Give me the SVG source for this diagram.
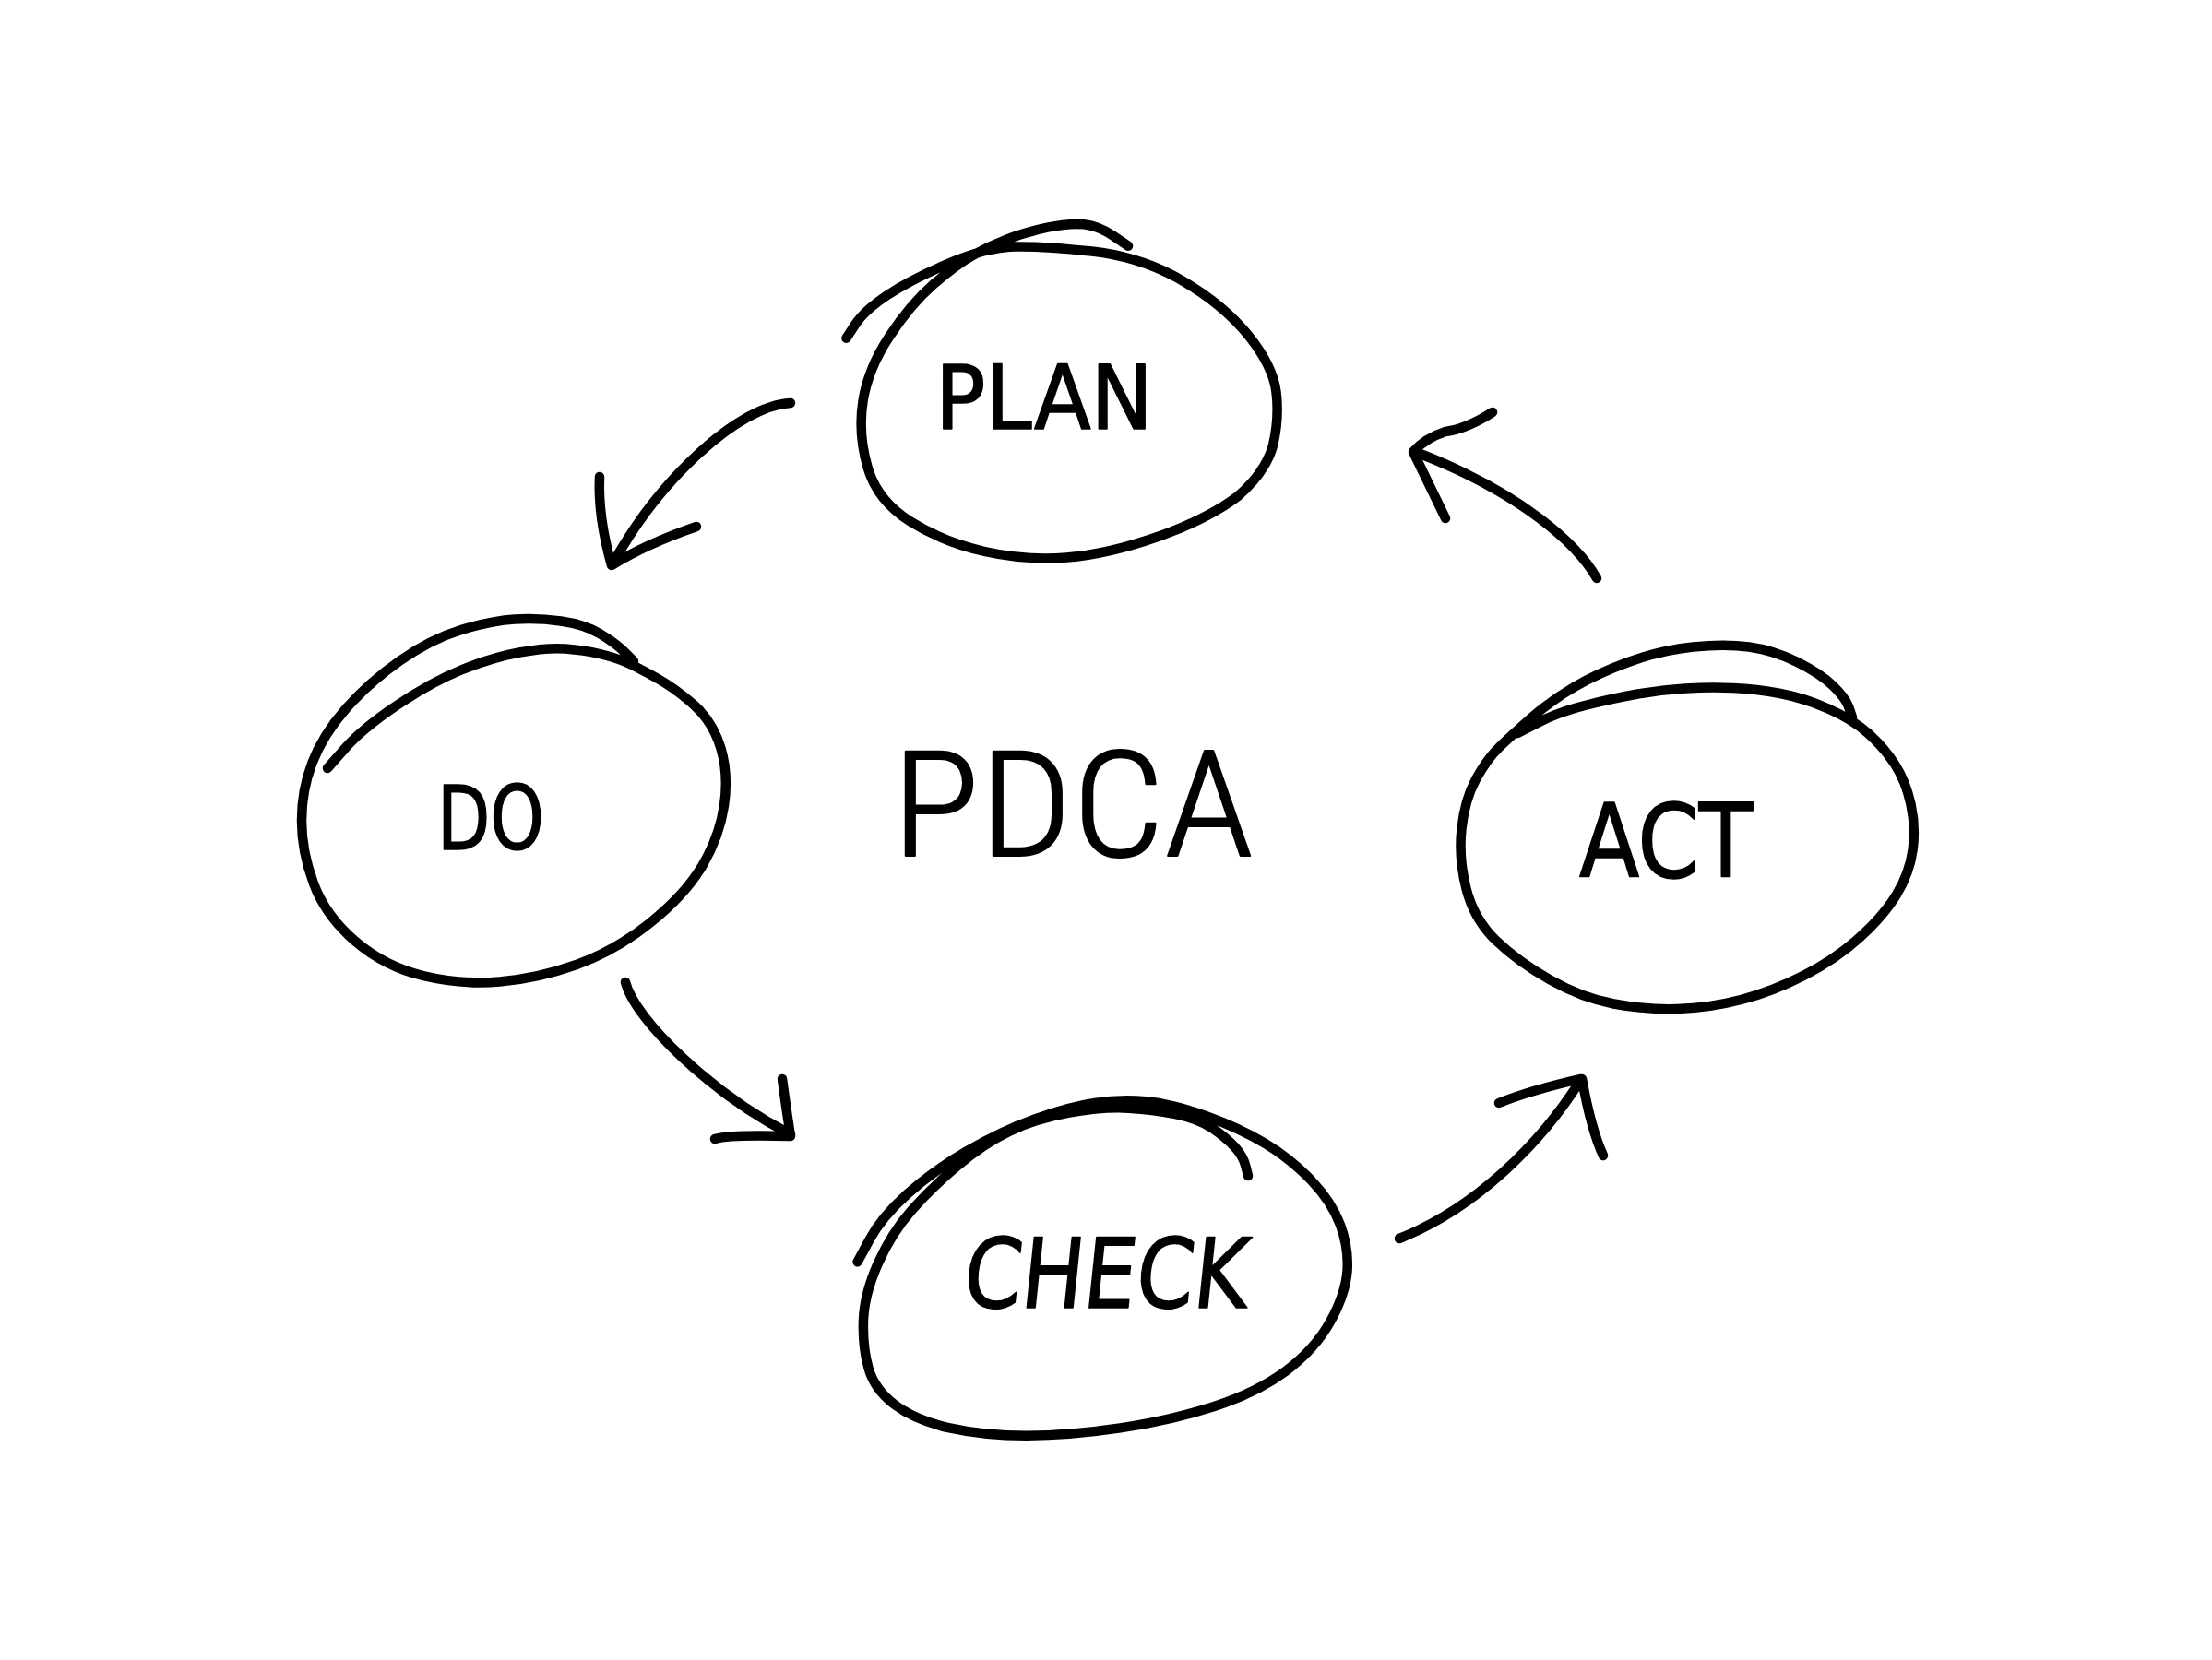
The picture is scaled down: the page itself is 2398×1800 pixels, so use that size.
<svg xmlns="http://www.w3.org/2000/svg" width="2398" height="1800" viewBox="0 0 2398 1800">
<style>
.ink{fill:none;stroke:#000;stroke-width:10.5;stroke-linecap:round;stroke-linejoin:round}
.lbl{font-family:"DejaVu Sans Condensed","DejaVu Sans",sans-serif;fill:#000;stroke:#000;stroke-width:1.5;stroke-linejoin:round;text-anchor:middle}
.title{font-family:"Roboto Condensed","Roboto","DejaVu Sans Condensed",sans-serif;font-weight:300;fill:#000;stroke:#000;stroke-width:2;stroke-linejoin:round;text-anchor:middle}
</style>
<rect width="2398" height="1800" fill="#fff"/>
<g id="plan">
<path class="ink" d="M917.5,366.7 L927.3,351.7 Q937,336.7 962,320 Q987,303.3 1028,285.8 Q1069,268.3 1099.5,267.5 Q1130,266.7 1183.5,272.5 Q1237,278.3 1281.5,304.2 Q1326,330 1353,363.3 Q1380,396.7 1383.5,425 Q1387,453.3 1380,483 Q1372,512 1342,538 Q1309,563 1255,582 Q1201,601 1156.5,604.5 Q1112,608 1067.5,598 Q1023,588 987,565.5 Q951,543 940.5,506.5 Q930,470 935.5,435 Q941,400 964,365 Q987,330 1012,308.3 Q1037,286.7 1055,276.7 Q1073,266.7 1092.5,259.2 Q1112,251.7 1135.5,246.7 Q1159,241.7 1175,243.3 Q1191,245 1207,255.8 L1223,266.7"/>
<text class="lbl" x="1132" y="465" font-size="96" textLength="236" lengthAdjust="spacingAndGlyphs">PLAN</text>
</g>
<g id="do">
<path class="ink" d="M355,833 L374,811.5 Q393,790 430,765 Q467,740 500,726.5 Q533,713 563,707.5 Q593,702 613,703.5 Q633,705 650,709 Q667,713 678.5,718 Q690,723 711.5,735 Q733,747 753,765 Q773,783 781.5,811.5 Q790,840 785,873.5 Q780,907 761.5,938.5 Q743,970 705,1000.5 Q667,1031 625,1046 Q583,1061 541.5,1064.5 Q500,1068 458.5,1058 Q417,1048 385,1020.5 Q353,993 340,958 Q327,923 327,890 Q327,857 338.5,827 Q350,797 375,768.5 Q400,740 433.5,716.5 Q467,693 500,683 Q533,673 558,671.5 Q583,670 608,673.5 Q633,677 650,687 Q667,697 677,707 L687,717"/>
<text class="lbl" x="532" y="921" font-size="96" textLength="116" lengthAdjust="spacingAndGlyphs">DO</text>
</g>
<g id="act">
<path class="ink" d="M1645,795 L1667.5,783.5 Q1690,772 1720,764.5 Q1750,757 1775.5,752.5 Q1801,748 1827,746.5 Q1853,745 1878.5,746 Q1904,747 1930,752 Q1956,757 1982,768.5 Q2008,780 2025,795 Q2042,810 2054,828.5 Q2066,847 2071.5,872 Q2077,897 2073.5,922 Q2070,947 2056,970 Q2042,993 2016,1016.5 Q1990,1040 1956,1057.5 Q1922,1075 1887.5,1084 Q1853,1093 1818.5,1094 Q1784,1095 1749.5,1088.5 Q1715,1082 1680.5,1062.5 Q1646,1043 1622,1020 Q1598,997 1589.5,963.5 Q1581,930 1584.5,898.5 Q1588,867 1600,845 Q1612,823 1625.5,810 Q1639,797 1660,778.5 Q1681,760 1706.5,745 Q1732,730 1766.5,717.5 Q1801,705 1835.5,701.5 Q1870,698 1896,701.5 Q1922,705 1947.5,717.5 Q1973,730 1987,743.5 Q2001,757 2004.5,767.5 L2008,778"/>
<text class="lbl" x="1806" y="951" font-size="110" textLength="188" lengthAdjust="spacingAndGlyphs">ACT</text>
</g>
<g id="check">
<path class="ink" d="M929.6,1368.3 L942.6,1344.2 Q955.5,1320 983.3,1295 Q1011,1270 1048,1248.4 Q1085,1226.7 1122,1213.4 Q1159,1200 1186.8,1195.9 Q1214.5,1191.7 1242.3,1194.2 Q1270,1196.7 1307,1210 Q1344,1223.3 1371.7,1240 Q1399.4,1256.7 1421.6,1280 Q1443.8,1303.3 1453,1328.3 Q1462.3,1353.3 1460.5,1378.3 Q1458.6,1403.3 1442,1433.3 Q1425.3,1463.3 1393.9,1486.7 Q1362.5,1510 1316.3,1525 Q1270,1540 1214.5,1548.4 Q1159,1556.7 1112.8,1556.7 Q1066.5,1556.7 1029.5,1548.4 Q992.5,1540 970.3,1523.4 Q948,1506.7 941.5,1483.4 Q935,1460 936,1431.7 Q937,1403.3 951.8,1370 Q966.6,1336.7 988.8,1311.7 Q1011,1286.7 1038.8,1263.4 Q1066.5,1240 1094.3,1226.7 Q1122,1213.3 1159,1206.7 Q1196,1200 1223.8,1201.7 Q1251.5,1203.3 1275.6,1208.3 Q1299.6,1213.3 1314.3,1223.3 Q1329,1233.3 1338.3,1243.3 Q1347.6,1253.3 1350.3,1264.2 L1353,1275"/>
<text class="lbl" transform="translate(1196,1418) skewX(-6)" x="0" y="0" font-size="105" textLength="308" lengthAdjust="spacingAndGlyphs">CHECK</text>
</g>
<g id="pdca">
<text class="title" x="1163" y="928" font-size="160" textLength="392" lengthAdjust="spacingAndGlyphs">PDCA</text>
</g>
<g id="connectors">
<path class="ink" d="M857,437 C800,440 715,520 665,610"/>
<path class="ink" d="M650,517 Q648,560 663,613 M663,613 Q700,590 755,571"/>
<path class="ink" d="M678,1065 C688,1105 770,1185 857,1230"/>
<path class="ink" d="M848,1170 Q852,1200 857,1232 M775,1235 Q790,1230 857,1232"/>
<path class="ink" d="M1517,1343 C1600,1310 1670,1240 1713,1172"/>
<path class="ink" d="M1625,1196 Q1660,1182 1713,1170 M1715,1170 Q1725,1225 1738,1253"/>
<path class="ink" d="M1731,627 C1710,590 1650,535 1537,491"/>
<path class="ink" d="M1618,447 Q1590,465 1567,468 Q1545,475 1532,490 M1533,492 L1567,562"/>
</g>
</svg>
